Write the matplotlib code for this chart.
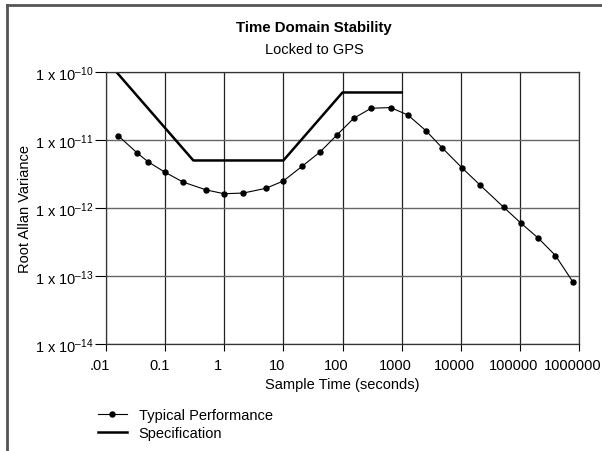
import matplotlib
matplotlib.use('Agg')
import matplotlib.pyplot as plt
import matplotlib.transforms as mtransforms
from matplotlib.lines import Line2D
from matplotlib.ticker import FixedLocator, NullLocator

plt.rcParams['font.family'] = ['Liberation Sans', 'DejaVu Sans']
plt.rcParams['mathtext.fontset'] = 'custom'
plt.rcParams['mathtext.rm'] = 'Liberation Sans'
plt.rcParams['mathtext.it'] = 'Liberation Sans:italic'
plt.rcParams['mathtext.bf'] = 'Liberation Sans:bold'

# Typical performance
tau_typ = [0.016, 0.034, 0.052, 0.1, 0.2, 0.5, 1, 2.1, 5.1, 10,
           20.7, 42, 81, 155, 305, 650, 1280, 2600, 4900, 10500,
           21500, 53000, 104000, 205000, 400000, 780000]
adev_typ = [1.16e-11, 6.4e-12, 4.75e-12, 3.35e-12, 2.41e-12, 1.84e-12, 1.62e-12, 1.66e-12, 1.95e-12, 2.5e-12,
            4.1e-12, 6.7e-12, 1.19e-11, 2.09e-11, 2.93e-11, 3.0e-11, 2.33e-11, 1.36e-11, 7.6e-12, 3.9e-12,
            2.15e-12, 1.03e-12, 6.0e-13, 3.6e-13, 2.0e-13, 8.3e-14]

# Specification mask
tau_spec = [0.015, 0.3, 10, 100, 1000]
adev_spec = [1e-10, 5e-12, 5e-12, 5e-11, 5e-11]

x_ticks = [0.01, 0.1, 1, 10, 100, 1000, 10000, 100000, 1000000]
x_labels = ['.01', '0.1', '1', '10', '100', '1000', '10000', '100000', '1000000']
y_ticks = [1e-14, 1e-13, 1e-12, 1e-11, 1e-10]
y_labels = ['1 x 10$^{\u2013' + str(e) + '}$' for e in [14, 13, 12, 11, 10]]

fs = 10.5

fig = plt.figure(figsize=(6.02, 4.52), dpi=100)
ax = fig.add_axes([106 / 602, 1 - 345 / 452, (579 - 106) / 602, (345 - 73) / 452])

ax.plot(tau_typ, adev_typ, color='black', linewidth=0.8, marker='o', markersize=3.6,
        label='Typical Performance')
ax.plot(tau_spec, adev_spec, color='black', linewidth=1.8, label='Specification')

ax.set_xscale('log')
ax.set_yscale('log')
ax.set_xlim(0.01, 1000000)
ax.set_ylim(1e-14, 1e-10)
ax.xaxis.set_major_locator(FixedLocator(x_ticks))
ax.yaxis.set_major_locator(FixedLocator(y_ticks))
ax.xaxis.set_minor_locator(NullLocator())
ax.yaxis.set_minor_locator(NullLocator())
ax.set_xticklabels(x_labels)
ax.set_yticklabels(y_labels)
ax.tick_params(axis='both', which='major', labelsize=fs, width=0.8, direction='out')
ax.tick_params(axis='x', length=5, pad=5)
ax.tick_params(axis='y', length=8, pad=1)
ax.yaxis.grid(True, color='#666666', linewidth=1.0)
ax.xaxis.grid(True, color='#222222', linewidth=0.9)
for s in ax.spines.values():
    s.set_linewidth(0.9)
    s.set_color('#333333')

# x labels sit a little left of their ticks in the original
shift = mtransforms.ScaledTranslation(-0.06, 0, fig.dpi_scale_trans)
for lbl in ax.get_xticklabels():
    lbl.set_transform(lbl.get_transform() + shift)

ax.set_xlabel('Sample Time (seconds)', fontsize=fs, labelpad=4)
ax.set_ylabel('Root Allan Variance', fontsize=fs, labelpad=2)

fig.text(314 / 602, 1 - 28 / 452, 'Time Domain Stability', ha='center', va='center',
         fontsize=10.8, fontweight='bold')
fig.text(314 / 602, 1 - 50 / 452, 'Locked to GPS', ha='center', va='center', fontsize=fs)

fig.legend(loc='upper left', bbox_to_anchor=(92 / 602, 1 - 403 / 452), frameon=False,
           fontsize=fs, handlelength=2.0, handletextpad=0.8, labelspacing=0.3,
           borderaxespad=0)

# outer frame
fig.add_artist(Line2D([6.5 / 602, 6.5 / 602], [0, 1 - 5.5 / 452], transform=fig.transFigure,
                      color='#555555', linewidth=2))
fig.add_artist(Line2D([6.5 / 602, 1], [1 - 5.5 / 452, 1 - 5.5 / 452], transform=fig.transFigure,
                      color='#555555', linewidth=2))

fig.savefig('out.png', dpi=100)
